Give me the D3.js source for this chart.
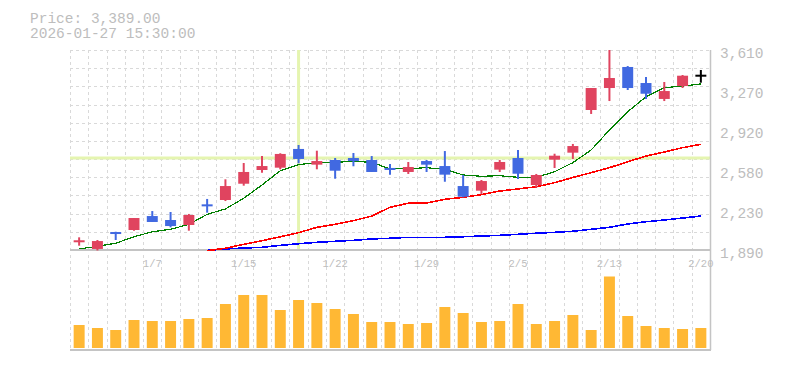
<!DOCTYPE html>
<html>
<head>
<meta charset="utf-8">
<script src="https://cdn.jsdelivr.net/npm/d3@7"></script>
<style>
  body { margin: 0; background: #fff; }
  svg { display: block; font-family: "Liberation Mono", "DejaVu Sans Mono", monospace; }
</style>
</head>
<body>
<div id="chart"></div>
<script>
// trading days shown on the chart
const dates = ['12/29','12/30','1/5','1/6','1/7','1/8','1/9','1/13','1/14','1/15','1/16','1/19','1/20','1/21','1/22',
  '1/23','1/26','1/27','1/28','1/29','1/30','2/2','2/3','2/4','2/5','2/6','2/9','2/10','2/12','2/13','2/16','2/17','2/18','2/19','2/20'];

const opens  = [1960,1899,2036,2062,2182,2148,2105,2274,2320,2460,2578,2598,2759,2624,2664,2681,2664,2587,2561,2655,2612,2440,2400,2581,2681,2449,2667,2727,3094,3283,3464,3326,3189,3300,3389];
const highs  = [1999,1976,2047,2165,2225,2217,2200,2329,2498,2638,2698,2722,2793,2744,2681,2724,2698,2630,2647,2664,2741,2535,2492,2664,2750,2544,2718,2802,3283,3610,3472,3378,3335,3395,3438];
const lows   = [1927,1886,1976,2056,2131,2085,2056,2211,2311,2443,2555,2584,2636,2584,2503,2610,2561,2538,2544,2561,2477,2343,2372,2561,2501,2426,2595,2673,3060,3171,3266,3189,3171,3283,3329];
const closes = [1965,1967,2022,2165,2131,2096,2191,2260,2440,2561,2612,2716,2673,2655,2572,2655,2561,2575,2604,2624,2538,2348,2483,2647,2546,2535,2701,2784,3283,3369,3283,3234,3257,3389,3389];

const volumes = [460,400,360,560,540,540,580,600,880,1060,1060,760,960,900,780,680,520,520,480,500,820,700,520,540,880,480,540,660,360,1430,640,440,400,380,400];

// moving averages (null = not visible)
const maShort = [1899,1922,1948,2004,2047,2068,2111,2197,2243,2335,2449,2572,2624,2641,2644,2653,2644,2587,2589,2598,2584,2535,2524,2529,2515,2515,2563,2641,2750,2922,3079,3208,3286,3300,3318];
const maMid   = [null,null,null,null,null,null,null,1884,1905,1939,1970,2004,2039,2085,2111,2142,2182,2257,2292,2294,2326,2343,2366,2397,2415,2434,2469,2514,2555,2598,2649,2698,2733,2770,2799];
const maLong  = [null,null,null,null,null,null,null,1887,1899,1907,1913,1930,1944,1956,1965,1973,1985,1991,1999,1999,1999,2004,2010,2016,2025,2034,2042,2051,2068,2085,2114,2133,2148,2165,2182];

const xTickLabels = ['1/7','1/15','1/22','1/29','2/5','2/13','2/20'];
const yTickValues = [1890, 2234, 2578, 2922, 3266, 3610];
const yTickLabels = ['1,890','2,230','2,580','2,920','3,270','3,610'];

const headerLines = ['Price: 3,389.00', '2026-01-27 15:30:00'];
const crossDate = '1/20';
const crossPrice = 2681;

var width = 785, height = 370;
var left = 70, right = 710;
var priceTop = 50, priceBottom = 250;
var volTop = 255, volBottom = 350;

var svg = d3.select('#chart').append('svg')
  .attr('width', width)
  .attr('height', height);

var x = d3.scaleBand().domain(dates).range([left, right]).padding(0);
var y = d3.scaleLinear().domain([1890, 3610]).range([priceBottom, priceTop]);
var yv = d3.scaleLinear().domain([0, 1800]).range([348, 258]);

var bw = x.bandwidth() * 0.6;
var cx = d => x(d) + x.bandwidth() / 2;

var gridColor = '#d9d9d9';
var textColor = '#bdbdbd';

// grid - price panel
var lo = y.domain()[0], hi = y.domain()[1];
svg.append('g').selectAll('line')
  .data(d3.range(12).map(i => lo + i * (hi - lo) / 11))
  .enter().append('line')
    .attr('x1', left).attr('x2', right)
    .attr('y1', d => Math.round(y(d)) + 0.5).attr('y2', d => Math.round(y(d)) + 0.5)
    .attr('stroke', gridColor).attr('stroke-dasharray', '3,3');

var vLines = dates.map(d => x(d)).concat([right]);
svg.append('g').selectAll('line')
  .data(vLines)
  .enter().append('line')
    .attr('x1', d => Math.round(d) + 0.5).attr('x2', d => Math.round(d) + 0.5)
    .attr('y1', priceTop).attr('y2', priceBottom)
    .attr('stroke', gridColor).attr('stroke-dasharray', '3,3');

// grid - volume panel
svg.append('g').selectAll('line')
  .data(vLines)
  .enter().append('line')
    .attr('x1', d => Math.round(d) + 0.5).attr('x2', d => Math.round(d) + 0.5)
    .attr('y1', volTop).attr('y2', volBottom)
    .attr('stroke', gridColor).attr('stroke-dasharray', '3,3');

// crosshair (behind the candles)
svg.append('line')
  .attr('x1', left).attr('x2', right)
  .attr('y1', y(crossPrice)).attr('y2', y(crossPrice))
  .attr('stroke', '#e5f5b0').attr('stroke-width', 3);
svg.append('line')
  .attr('x1', cx(crossDate)).attr('x2', cx(crossDate))
  .attr('y1', priceTop).attr('y2', priceBottom)
  .attr('stroke', '#e5f5b0').attr('stroke-width', 3);

// axes lines
svg.append('line').attr('x1', left).attr('x2', right).attr('y1', priceBottom).attr('y2', priceBottom)
  .attr('stroke', '#c4c4c4').attr('stroke-width', 2);
svg.append('line').attr('x1', left).attr('x2', right + 1).attr('y1', volBottom).attr('y2', volBottom)
  .attr('stroke', '#c4c4c4').attr('stroke-width', 2);
svg.append('line').attr('x1', right + 0.5).attr('x2', right + 0.5).attr('y1', priceTop).attr('y2', volBottom)
  .attr('stroke', '#c4c4c4').attr('stroke-width', 1.5);

// moving averages
function drawLine(values, color, w) {
  var line = d3.line()
    .defined(d => d[1] != null)
    .x(d => cx(d[0]))
    .y(d => y(d[1]));
  svg.append('path')
    .datum(dates.map((d, i) => [d, values[i]]))
    .attr('d', line)
    .attr('fill', 'none')
    .attr('stroke', color)
    .attr('stroke-width', w)
    .attr('shape-rendering', 'crispEdges');
}
drawLine(maLong, '#0000ff', 1.6);
drawLine(maMid, '#ff0000', 1.6);
drawLine(maShort, '#008000', 1.2);

// candles
function candleColor(i) {
  if (closes[i] > opens[i]) return '#e0445f';
  if (closes[i] < opens[i]) return '#4169e1';
  return '#000000';
}

var candles = svg.append('g').selectAll('g')
  .data(dates)
  .enter().append('g');

candles.append('line')
  .attr('x1', d => cx(d)).attr('x2', d => cx(d))
  .attr('y1', (d, i) => y(highs[i]))
  .attr('y2', (d, i) => y(lows[i]))
  .attr('stroke', (d, i) => candleColor(i))
  .attr('stroke-width', 2);

candles.append('rect')
  .attr('x', d => cx(d) - bw / 2)
  .attr('width', bw)
  .attr('y', (d, i) => Math.min(y(opens[i]), y(closes[i])) - (Math.abs(y(opens[i]) - y(closes[i])) < 2 ? 1 : 0))
  .attr('height', (d, i) => Math.max(2, Math.abs(y(opens[i]) - y(closes[i]))))
  .attr('fill', (d, i) => candleColor(i));

// volume bars
svg.append('g').selectAll('rect')
  .data(dates)
  .enter().append('rect')
    .attr('x', d => cx(d) - bw / 2)
    .attr('width', bw)
    .attr('y', (d, i) => yv(volumes[i]))
    .attr('height', (d, i) => yv(0) - yv(volumes[i]))
    .attr('fill', '#ffb834');

// y labels
svg.append('g').selectAll('text')
  .data(yTickValues)
  .enter().append('text')
    .attr('x', 720)
    .attr('y', d => y(d) + 7.5)
    .attr('fill', textColor)
    .style('font-size', '14.5px')
    .text((d, i) => yTickLabels[i]);

// x labels
svg.append('g').selectAll('text')
  .data(xTickLabels)
  .enter().append('text')
    .attr('x', d => cx(d))
    .attr('y', 267)
    .attr('text-anchor', 'middle')
    .attr('fill', textColor)
    .style('font-size', '10.5px')
    .text(d => d);

// header
svg.append('g').selectAll('text')
  .data(headerLines)
  .enter().append('text')
    .attr('x', 30)
    .attr('y', (d, i) => 23 + i * 14.5)
    .attr('fill', textColor)
    .style('font-size', '14.5px')
    .text(d => d);
</script>
</body>
</html>
